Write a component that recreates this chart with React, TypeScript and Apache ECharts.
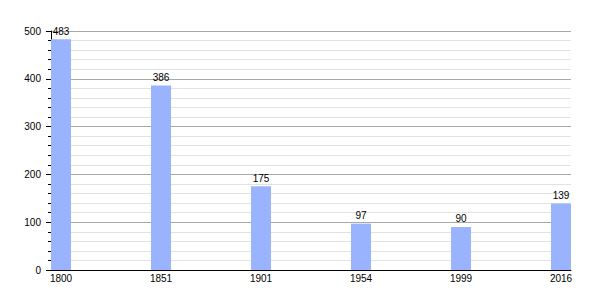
import React, { useEffect, useRef } from "react";
import * as echarts from "echarts";

const categories = ["1800", "1851", "1901", "1954", "1999", "2016"];
const values = [483, 386, 175, 97, 90, 139];
const yTicks = [0, 100, 200, 300, 400, 500];

export default function App() {
  const ref = useRef<HTMLDivElement>(null);
  useEffect(() => {
    if (!ref.current) return;
    const chart = echarts.init(ref.current, undefined, { renderer: "svg" });
    const font = "Liberation Sans, Arial, sans-serif";
    chart.setOption({
      animation: false,
      grid: { left: 51, right: 29, top: 31, bottom: 30 },
      xAxis: {
        type: "value",
        min: 0,
        max: categories.length - 0.8,
        interval: 1,
        splitLine: { show: false },
        axisTick: { show: false },
        axisLine: { show: true, lineStyle: { color: "#000", width: 1 } },
        axisLabel: {
          margin: 3,
          color: "#000",
          fontSize: 10,
          fontFamily: font,
          padding: [0, 0, 0, 20],
          formatter: (v: number) => (Number.isInteger(v) && categories[v]) || "",
        },
      },
      yAxis: {
        type: "value",
        min: yTicks[0],
        max: yTicks[yTicks.length - 1],
        interval: 100,
        axisLine: { show: true, lineStyle: { color: "#000", width: 1 } },
        axisTick: { show: true, length: 5, lineStyle: { color: "#000" } },
        minorTick: { show: true, splitNumber: 5, length: 3, lineStyle: { color: "#000" } },
        splitLine: { show: true, lineStyle: { color: "#a8a8a8", width: 1 } },
        minorSplitLine: { show: true, lineStyle: { color: "#e2e2e2", width: 1 } },
        axisLabel: { margin: 10, color: "#000", fontSize: 10, fontFamily: font },
      },
      series: [
        {
          type: "bar",
          barWidth: 20,
          itemStyle: { color: "#99b3ff" },
          data: values.map((v, i) => [i + 0.1, v]),
          label: {
            show: true,
            position: "top",
            distance: 3,
            color: "#000",
            fontSize: 10,
            fontFamily: font,
            formatter: (p: any) => String(p.value[1]),
          },
        },
      ],
    });
    return () => chart.dispose();
  }, []);
  return <div ref={ref} style={{ width: 600, height: 300, position: "absolute", left: 0, top: 0 }} />;
}
